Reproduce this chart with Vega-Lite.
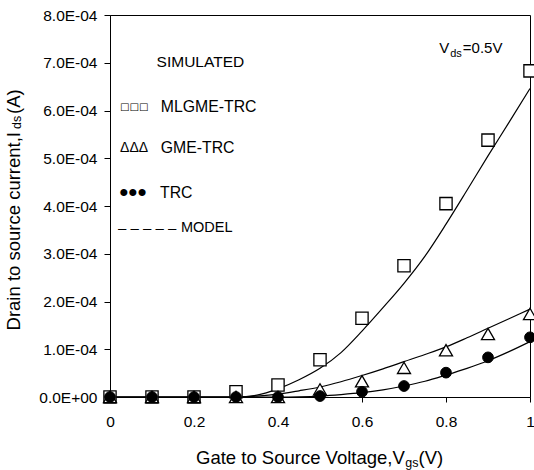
{
  "$schema": "https://vega.github.io/schema/vega-lite/v6.json",
  "width": 420,
  "height": 382,
  "autosize": {"type": "none"},
  "padding": {"left": 110, "top": 15, "right": 4, "bottom": 73},
  "background": "white",
  "config": {
    "view": {"stroke": "black", "strokeWidth": 1},
    "text": {"font": "Liberation Sans", "color": "black"}
  },
  "datasets": {
    "sim": [
      {"x": 0, "y": 0, "series": "MLGME-TRC"},
      {"x": 0.1, "y": 0, "series": "MLGME-TRC"},
      {"x": 0.2, "y": 0, "series": "MLGME-TRC"},
      {"x": 0.3, "y": 0.000011, "series": "MLGME-TRC"},
      {"x": 0.4, "y": 0.000025, "series": "MLGME-TRC"},
      {"x": 0.5, "y": 0.000078, "series": "MLGME-TRC"},
      {"x": 0.6, "y": 0.000165, "series": "MLGME-TRC"},
      {"x": 0.7, "y": 0.000275, "series": "MLGME-TRC"},
      {"x": 0.8, "y": 0.000405, "series": "MLGME-TRC"},
      {"x": 0.9, "y": 0.000538, "series": "MLGME-TRC"},
      {"x": 1.0, "y": 0.000683, "series": "MLGME-TRC"},
      {"x": 0, "y": 0, "series": "GME-TRC"},
      {"x": 0.1, "y": 0, "series": "GME-TRC"},
      {"x": 0.2, "y": 0, "series": "GME-TRC"},
      {"x": 0.3, "y": 0, "series": "GME-TRC"},
      {"x": 0.4, "y": 0, "series": "GME-TRC"},
      {"x": 0.5, "y": 0.000016, "series": "GME-TRC"},
      {"x": 0.6, "y": 0.000033, "series": "GME-TRC"},
      {"x": 0.7, "y": 0.000061, "series": "GME-TRC"},
      {"x": 0.8, "y": 0.000098, "series": "GME-TRC"},
      {"x": 0.9, "y": 0.000132, "series": "GME-TRC"},
      {"x": 1.0, "y": 0.000174, "series": "GME-TRC"},
      {"x": 0, "y": 0, "series": "TRC"},
      {"x": 0.1, "y": 0, "series": "TRC"},
      {"x": 0.2, "y": 0, "series": "TRC"},
      {"x": 0.3, "y": 0, "series": "TRC"},
      {"x": 0.4, "y": 0, "series": "TRC"},
      {"x": 0.5, "y": 0.000002, "series": "TRC"},
      {"x": 0.6, "y": 0.000011, "series": "TRC"},
      {"x": 0.7, "y": 0.000023, "series": "TRC"},
      {"x": 0.8, "y": 0.000051, "series": "TRC"},
      {"x": 0.9, "y": 0.000083, "series": "TRC"},
      {"x": 1.0, "y": 0.000125, "series": "TRC"}
    ],
    "model": [
      {"x": 0, "y": 0, "series": "MLGME-TRC"},
      {"x": 0.3, "y": 0, "series": "MLGME-TRC"},
      {"x": 0.35, "y": 0.000004, "series": "MLGME-TRC"},
      {"x": 0.4, "y": 0.000017, "series": "MLGME-TRC"},
      {"x": 0.45, "y": 0.000036, "series": "MLGME-TRC"},
      {"x": 0.5, "y": 0.00006, "series": "MLGME-TRC"},
      {"x": 0.55, "y": 0.000093, "series": "MLGME-TRC"},
      {"x": 0.6, "y": 0.000138, "series": "MLGME-TRC"},
      {"x": 0.65, "y": 0.000187, "series": "MLGME-TRC"},
      {"x": 0.7, "y": 0.000238, "series": "MLGME-TRC"},
      {"x": 0.75, "y": 0.000295, "series": "MLGME-TRC"},
      {"x": 0.8, "y": 0.000362, "series": "MLGME-TRC"},
      {"x": 0.85, "y": 0.000433, "series": "MLGME-TRC"},
      {"x": 0.9, "y": 0.000505, "series": "MLGME-TRC"},
      {"x": 0.95, "y": 0.000575, "series": "MLGME-TRC"},
      {"x": 1.0, "y": 0.000646, "series": "MLGME-TRC"},
      {"x": 0, "y": 0, "series": "GME-TRC"},
      {"x": 0.3, "y": 0, "series": "GME-TRC"},
      {"x": 0.35, "y": 0.000002, "series": "GME-TRC"},
      {"x": 0.4, "y": 0.000006, "series": "GME-TRC"},
      {"x": 0.45, "y": 0.000013, "series": "GME-TRC"},
      {"x": 0.5, "y": 0.000021, "series": "GME-TRC"},
      {"x": 0.55, "y": 0.000032, "series": "GME-TRC"},
      {"x": 0.6, "y": 0.000045, "series": "GME-TRC"},
      {"x": 0.65, "y": 0.000059, "series": "GME-TRC"},
      {"x": 0.7, "y": 0.000074, "series": "GME-TRC"},
      {"x": 0.75, "y": 0.000089, "series": "GME-TRC"},
      {"x": 0.8, "y": 0.000105, "series": "GME-TRC"},
      {"x": 0.85, "y": 0.000124, "series": "GME-TRC"},
      {"x": 0.9, "y": 0.000144, "series": "GME-TRC"},
      {"x": 0.95, "y": 0.000164, "series": "GME-TRC"},
      {"x": 1.0, "y": 0.000184, "series": "GME-TRC"},
      {"x": 0, "y": 0, "series": "TRC"},
      {"x": 0.4, "y": 0, "series": "TRC"},
      {"x": 0.45, "y": 0.0000005, "series": "TRC"},
      {"x": 0.5, "y": 0.000002, "series": "TRC"},
      {"x": 0.55, "y": 0.000005, "series": "TRC"},
      {"x": 0.6, "y": 0.000009, "series": "TRC"},
      {"x": 0.65, "y": 0.000015, "series": "TRC"},
      {"x": 0.7, "y": 0.000023, "series": "TRC"},
      {"x": 0.75, "y": 0.000033, "series": "TRC"},
      {"x": 0.8, "y": 0.000046, "series": "TRC"},
      {"x": 0.85, "y": 0.00006, "series": "TRC"},
      {"x": 0.9, "y": 0.000076, "series": "TRC"},
      {"x": 0.95, "y": 0.000095, "series": "TRC"},
      {"x": 1.0, "y": 0.000116, "series": "TRC"}
    ]
  },
  "layer": [
    {
      "data": {"name": "model"},
      "mark": {"type": "line", "color": "black", "strokeWidth": 1.2, "interpolate": "monotone"},
      "encoding": {
        "x": {
          "field": "x", "type": "quantitative", "title": null,
          "scale": {"domain": [0, 1], "nice": false, "zero": false},
          "axis": {
            "values": [0, 0.2, 0.4, 0.6, 0.8, 1],
            "format": "~g",
            "title": null,
            "grid": false,
            "domainColor": "black",
            "tickColor": "black",
            "tickSize": 5,
            "labelFont": "Liberation Sans",
            "labelFontSize": 15.5,
            "labelColor": "black",
            "labelPadding": 12,
            "labelFlush": false
          }
        },
        "y": {
          "field": "y", "type": "quantitative", "title": null,
          "scale": {"domain": [0, 0.0008], "nice": false, "zero": false},
          "axis": {
            "values": [0, 0.0001, 0.0002, 0.0003, 0.0004, 0.0005, 0.0006, 0.0007, 0.0008],
            "labelExpr": "datum.value == 0 ? '0.0E+00' : format(datum.value * 10000, '.1f') + 'E-04'",
            "title": null,
            "grid": false,
            "domainColor": "black",
            "tickColor": "black",
            "tickSize": 6,
            "labelFont": "Liberation Sans",
            "labelFontSize": 15.5,
            "labelColor": "black",
            "labelPadding": 7,
            "labelFlush": false
          }
        },
        "detail": {"field": "series"}
      }
    },
    {
      "data": {"name": "sim"},
      "transform": [{"filter": {"field": "series", "equal": "MLGME-TRC"}}],
      "mark": {"type": "point", "shape": "square", "size": 150, "filled": true, "fill": "white", "stroke": "black", "strokeWidth": 1.3, "opacity": 1},
      "encoding": {
        "x": {"field": "x", "type": "quantitative", "title": null},
        "y": {"field": "y", "type": "quantitative", "title": null}
      }
    },
    {
      "data": {"name": "sim"},
      "transform": [{"filter": {"field": "series", "equal": "GME-TRC"}}],
      "mark": {"type": "point", "shape": "triangle-up", "size": 170, "filled": true, "fill": "white", "stroke": "black", "strokeWidth": 1.3, "opacity": 1},
      "encoding": {
        "x": {"field": "x", "type": "quantitative", "title": null},
        "y": {"field": "y", "type": "quantitative", "title": null}
      }
    },
    {
      "data": {"name": "sim"},
      "transform": [{"filter": {"field": "series", "equal": "TRC"}}],
      "mark": {"type": "point", "shape": "circle", "size": 115, "filled": true, "fill": "black", "stroke": "black", "strokeWidth": 1, "opacity": 1},
      "encoding": {
        "x": {"field": "x", "type": "quantitative", "title": null},
        "y": {"field": "y", "type": "quantitative", "title": null}
      }
    },
    {
      "data": {"values": [{}]},
      "mark": {"type": "text", "text": "SIMULATED", "align": "left", "baseline": "middle", "fontSize": 15.5},
      "encoding": {"x": {"datum": 0.111, "type": "quantitative"}, "y": {"datum": 0.000702, "type": "quantitative"}}
    },
    {
      "data": {"values": [{}]},
      "mark": {"type": "text", "text": "□□□", "align": "left", "baseline": "middle", "fontSize": 10, "font": "DejaVu Sans"},
      "encoding": {"x": {"datum": 0.024, "type": "quantitative"}, "y": {"datum": 0.000608, "type": "quantitative"}}
    },
    {
      "data": {"values": [{}]},
      "mark": {"type": "text", "text": "MLGME-TRC", "align": "left", "baseline": "middle", "fontSize": 15.8},
      "encoding": {"x": {"datum": 0.121, "type": "quantitative"}, "y": {"datum": 0.000608, "type": "quantitative"}}
    },
    {
      "data": {"values": [{}]},
      "mark": {"type": "text", "text": "ΔΔΔ", "align": "left", "baseline": "middle", "fontSize": 14},
      "encoding": {"x": {"datum": 0.024, "type": "quantitative"}, "y": {"datum": 0.000521, "type": "quantitative"}}
    },
    {
      "data": {"values": [{}]},
      "mark": {"type": "text", "text": "GME-TRC", "align": "left", "baseline": "middle", "fontSize": 15.8},
      "encoding": {"x": {"datum": 0.121, "type": "quantitative"}, "y": {"datum": 0.000521, "type": "quantitative"}}
    },
    {
      "data": {"values": [{}]},
      "mark": {"type": "text", "text": "•••", "align": "left", "baseline": "middle", "fontSize": 26},
      "encoding": {"x": {"datum": 0.022, "type": "quantitative"}, "y": {"datum": 0.000427, "type": "quantitative"}}
    },
    {
      "data": {"values": [{}]},
      "mark": {"type": "text", "text": "TRC", "align": "left", "baseline": "middle", "fontSize": 15.8},
      "encoding": {"x": {"datum": 0.119, "type": "quantitative"}, "y": {"datum": 0.000427, "type": "quantitative"}}
    },
    {
      "data": {"values": [{}]},
      "mark": {"type": "text", "text": "– – – – –", "align": "left", "baseline": "middle", "fontSize": 15},
      "encoding": {"x": {"datum": 0.019, "type": "quantitative"}, "y": {"datum": 0.000353, "type": "quantitative"}}
    },
    {
      "data": {"values": [{}]},
      "mark": {"type": "text", "text": "MODEL", "align": "left", "baseline": "middle", "fontSize": 14.5},
      "encoding": {"x": {"datum": 0.169, "type": "quantitative"}, "y": {"datum": 0.000353, "type": "quantitative"}}
    },
    {
      "data": {"values": [{}]},
      "mark": {"type": "text", "text": "V", "align": "left", "baseline": "middle", "fontSize": 15},
      "encoding": {"x": {"datum": 0.784, "type": "quantitative"}, "y": {"datum": 0.00073, "type": "quantitative"}}
    },
    {
      "data": {"values": [{}]},
      "mark": {"type": "text", "text": "ds", "align": "left", "baseline": "middle", "fontSize": 11},
      "encoding": {"x": {"datum": 0.81, "type": "quantitative"}, "y": {"datum": 0.000719, "type": "quantitative"}}
    },
    {
      "data": {"values": [{}]},
      "mark": {"type": "text", "text": "=0.5V", "align": "left", "baseline": "middle", "fontSize": 15},
      "encoding": {"x": {"datum": 0.84, "type": "quantitative"}, "y": {"datum": 0.00073, "type": "quantitative"}}
    },
    {
      "data": {"values": [{}]},
      "mark": {"type": "text", "text": "Gate to Source Voltage,V", "align": "right", "baseline": "middle", "fontSize": 18.5},
      "encoding": {"x": {"datum": 0.7019, "type": "quantitative"}, "y": {"datum": -0.000128, "type": "quantitative"}}
    },
    {
      "data": {"values": [{}]},
      "mark": {"type": "text", "text": "gs", "align": "left", "baseline": "middle", "fontSize": 12.5},
      "encoding": {"x": {"datum": 0.7029, "type": "quantitative"}, "y": {"datum": -0.000139, "type": "quantitative"}}
    },
    {
      "data": {"values": [{}]},
      "mark": {"type": "text", "text": "(V)", "align": "left", "baseline": "middle", "fontSize": 18.5},
      "encoding": {"x": {"datum": 0.7345, "type": "quantitative"}, "y": {"datum": -0.000128, "type": "quantitative"}}
    },
    {
      "data": {"values": [{}]},
      "mark": {"type": "text", "text": "Drain to source current,I", "align": "right", "baseline": "middle", "fontSize": 18.5, "angle": 270},
      "encoding": {"x": {"datum": -0.2286, "type": "quantitative"}, "y": {"datum": 0.000555, "type": "quantitative"}}
    },
    {
      "data": {"values": [{}]},
      "mark": {"type": "text", "text": "ds", "align": "left", "baseline": "middle", "fontSize": 12.5, "angle": 270},
      "encoding": {"x": {"datum": -0.221, "type": "quantitative"}, "y": {"datum": 0.0005613, "type": "quantitative"}}
    },
    {
      "data": {"values": [{}]},
      "mark": {"type": "text", "text": "(A)", "align": "left", "baseline": "middle", "fontSize": 18.5, "angle": 270},
      "encoding": {"x": {"datum": -0.2286, "type": "quantitative"}, "y": {"datum": 0.0005927, "type": "quantitative"}}
    }
  ]
}
